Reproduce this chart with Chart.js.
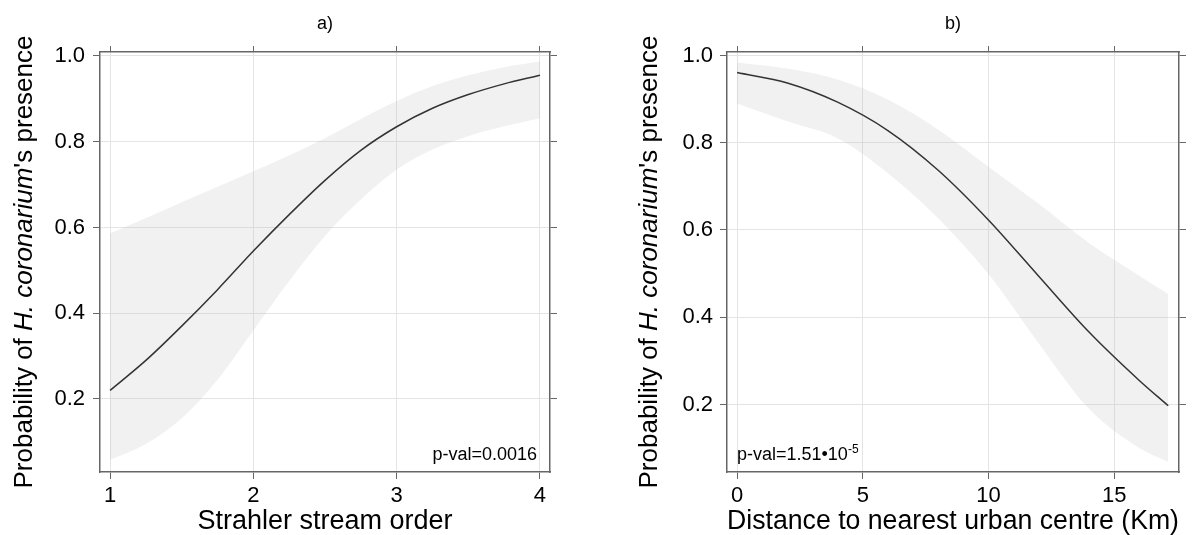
<!DOCTYPE html>
<html>
<head>
<meta charset="utf-8">
<script src="https://cdn.jsdelivr.net/npm/chart.js@4.4.1/dist/chart.umd.min.js"></script>
<style>
  html, body { margin: 0; padding: 0; background: #fff; }
  .panel { position: absolute; top: 0; height: 535px; }
  #panelA { left: 0; width: 596px; }
  #panelB { left: 596px; width: 597px; }
</style>
</head>
<body>
<div class="panel" id="panelA"><canvas id="chartA" width="596" height="535"></canvas></div>
<div class="panel" id="panelB"><canvas id="chartB" width="597" height="535"></canvas></div>
<script>
// a) Strahler stream order
const strahlerX = [1, 1.25, 1.5, 1.75, 2, 2.25, 2.5, 2.75, 3, 3.25, 3.5, 3.75, 4];
const strahlerFit = [0.22, 0.29, 0.37, 0.455, 0.545, 0.63, 0.71, 0.78, 0.835, 0.878, 0.91, 0.935, 0.955];
const strahlerUpper = [0.586, 0.622, 0.659, 0.695, 0.731, 0.768, 0.808, 0.853, 0.895, 0.93, 0.955, 0.974, 0.987];
const strahlerLower = [0.058, 0.095, 0.155, 0.245, 0.36, 0.475, 0.58, 0.665, 0.735, 0.782, 0.813, 0.836, 0.855];
const strahlerTicks = [1, 2, 3, 4];

// b) distance to nearest urban centre (km)
const distX = [0, 2, 4, 6, 8, 10, 12, 14, 16, 17.15];
const distFit = [0.961, 0.937, 0.893, 0.828, 0.737, 0.623, 0.494, 0.366, 0.255, 0.197];
const distUpper = [0.984, 0.970, 0.945, 0.899, 0.83, 0.745, 0.66, 0.57, 0.495, 0.453];
const distLower = [0.89, 0.849, 0.81, 0.73, 0.627, 0.499, 0.34, 0.19, 0.10, 0.068];
const distTicks = [0, 5, 10, 15];

const probTicks = [0.2, 0.4, 0.6, 0.8, 1.0];

const yTitleParts = [
    { text: 'Probability of ', italic: false },
    { text: 'H. coronarium', italic: true },
    { text: "'s presence", italic: false }
];

const FONT = "'Liberation Sans', Arial, Helvetica, sans-serif";
const AXIS_GREY = '#666666';
const GRID_GREY = '#e4e4e4';
const BAND_FILL = 'rgba(185, 185, 185, 0.2)';

Chart.defaults.font.family = FONT;
Chart.defaults.color = '#000';

function toPoints(xs, ys) {
    return xs.map((x, i) => ({ x: x, y: ys[i] }));
}

// y title with the italic species name, plus the p-value note
const panelText = {
    id: 'panelText',
    afterDraw(chart, args, opts) {
        const ctx = chart.ctx;
        const area = chart.chartArea;
        ctx.save();
        ctx.fillStyle = '#000';

        ctx.save();
        ctx.translate(opts.yTitleX, (area.top + area.bottom) / 2);
        ctx.rotate(-Math.PI / 2);
        ctx.textBaseline = 'middle';
        ctx.textAlign = 'left';
        let total = 0;
        yTitleParts.forEach(p => {
            ctx.font = (p.italic ? 'italic ' : '') + '26px ' + FONT;
            total += ctx.measureText(p.text).width;
        });
        let x = -total / 2;
        yTitleParts.forEach(p => {
            ctx.font = (p.italic ? 'italic ' : '') + '26px ' + FONT;
            ctx.fillText(p.text, x, 0);
            x += ctx.measureText(p.text).width;
        });
        ctx.restore();

        const pv = opts.pValue;
        ctx.textBaseline = 'alphabetic';
        ctx.font = '18px ' + FONT;
        if (pv.align === 'right') {
            ctx.textAlign = 'right';
            ctx.fillText(pv.text, area.right - 13, area.bottom - 12);
        } else {
            ctx.textAlign = 'left';
            const px = area.left + 10;
            ctx.fillText(pv.text, px, area.bottom - 12);
            const w = ctx.measureText(pv.text).width;
            ctx.font = '12px ' + FONT;
            ctx.fillText(pv.sup, px + w, area.bottom - 19);
        }
        ctx.restore();
    }
};

function makePanel(id, cfg) {
    const setTicks = (scale) => { scale.ticks = cfg.xTicks.map(v => ({ value: v })); };
    const setYTicks = (scale) => { scale.ticks = probTicks.map(v => ({ value: v })); };
    const border = { color: AXIS_GREY, width: 1.5 };

    return new Chart(document.getElementById(id), {
        type: 'line',
        data: {
            datasets: [
                {
                    data: toPoints(cfg.xs, cfg.fit),
                    borderColor: '#333333',
                    borderWidth: 1.5,
                    pointRadius: 0,
                    cubicInterpolationMode: 'monotone',
                    fill: false
                },
                {
                    data: toPoints(cfg.xs, cfg.upper),
                    borderColor: 'rgba(0,0,0,0)',
                    borderWidth: 0,
                    pointRadius: 0,
                    cubicInterpolationMode: 'monotone',
                    backgroundColor: BAND_FILL,
                    fill: '+1'
                },
                {
                    data: toPoints(cfg.xs, cfg.lower),
                    borderColor: 'rgba(0,0,0,0)',
                    borderWidth: 0,
                    pointRadius: 0,
                    cubicInterpolationMode: 'monotone',
                    fill: false
                }
            ]
        },
        options: {
            responsive: false,
            animation: false,
            layout: { padding: { left: 0, right: cfg.rightPad, top: 0, bottom: 0 } },
            plugins: {
                legend: { display: false },
                tooltip: { enabled: false },
                title: {
                    display: true,
                    fullSize: false,
                    text: cfg.title,
                    color: '#000',
                    font: { size: 18, weight: 'normal' },
                    padding: { top: 13.2, bottom: 17.2 }
                },
                panelText: { yTitleX: cfg.yTitleX, pValue: cfg.pValue }
            },
            scales: {
                x: {
                    type: 'linear',
                    position: 'bottom',
                    min: cfg.xMin,
                    max: cfg.xMax,
                    afterBuildTicks: setTicks,
                    afterFit: (s) => { s.height = 63; },
                    ticks: {
                        font: { size: 22 },
                        padding: 4,
                        maxRotation: 0,
                        autoSkip: false,
                        callback: (v) => String(v)
                    },
                    grid: { color: GRID_GREY, tickColor: AXIS_GREY, tickLength: 7 },
                    border: border,
                    title: {
                        display: true,
                        text: cfg.xTitle,
                        color: '#000',
                        font: { size: 27, lineHeight: 1 },
                        padding: 0
                    }
                },
                xTop: {
                    type: 'linear',
                    position: 'top',
                    min: cfg.xMin,
                    max: cfg.xMax,
                    afterBuildTicks: setTicks,
                    afterFit: (s) => { s.height = 0; },
                    ticks: { display: false },
                    grid: { drawOnChartArea: false, tickColor: AXIS_GREY, tickLength: 6 },
                    border: border
                },
                y: {
                    type: 'linear',
                    position: 'left',
                    min: cfg.yMin,
                    max: cfg.yMax,
                    afterBuildTicks: setYTicks,
                    afterFit: (s) => { s.width = cfg.yWidth; },
                    ticks: {
                        font: { size: 22 },
                        padding: cfg.yPad,
                        callback: (v) => v.toFixed(1)
                    },
                    grid: { color: GRID_GREY, tickColor: AXIS_GREY, tickLength: 7 },
                    border: border
                },
                yRight: {
                    type: 'linear',
                    position: 'right',
                    min: cfg.yMin,
                    max: cfg.yMax,
                    afterBuildTicks: setYTicks,
                    afterFit: (s) => { s.width = 0; },
                    ticks: { display: false },
                    grid: { drawOnChartArea: false, tickColor: AXIS_GREY, tickLength: 7 },
                    border: border
                }
            }
        },
        plugins: [panelText]
    });
}

makePanel('chartA', {
    title: 'a)',
    xs: strahlerX, fit: strahlerFit, upper: strahlerUpper, lower: strahlerLower,
    xTicks: strahlerTicks,
    xMin: 0.93, xMax: 4.07,
    yMin: 0.0297, yMax: 1.0093,
    yWidth: 100, yPad: 8, rightPad: 46, yTitleX: 25,
    xTitle: 'Strahler stream order',
    pValue: { text: 'p-val=0.0016', align: 'right' }
});

makePanel('chartB', {
    title: 'b)',
    xs: distX, fit: distFit, upper: distUpper, lower: distLower,
    xTicks: distTicks,
    xMin: -0.4, xMax: 17.58,
    yMin: 0.0452, yMax: 1.008,
    yWidth: 131, yPad: 7, rightPad: 14, yTitleX: 54,
    xTitle: 'Distance to nearest urban centre (Km)',
    pValue: { text: 'p-val=1.51\u202210', sup: '-5', align: 'left' }
});
</script>
</body>
</html>
